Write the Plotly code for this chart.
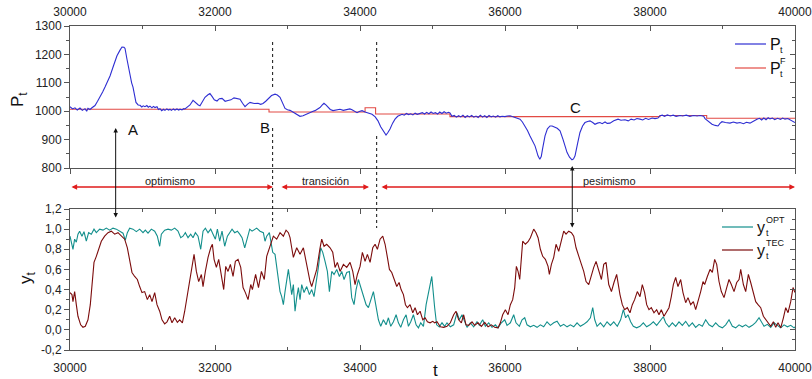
import plotly.graph_objects as go

# ---- market price P_t and fundamental price P_t^F ----
p_t = [30000, 30035, 30069, 30100, 30138, 30170, 30207, 30230, 30248, 30275, 30303, 30345, 30380, 30414, 30450,
       30483, 30520, 30552, 30600, 30648, 30690, 30717, 30745, 30759, 30786, 30810, 30828, 30850, 30869, 30890,
       30910, 30940, 30966, 30990, 31010, 31034, 31060, 31080, 31103, 31130, 31150, 31172, 31200, 31220, 31241,
       31265, 31290, 31310, 31335, 31360, 31379, 31400, 31425, 31448, 31475, 31500, 31517, 31545, 31570, 31586,
       31620, 31655, 31697, 31738, 31770, 31793, 31830, 31862, 31903, 31930, 31959, 31990, 32028, 32060, 32097,
       32140, 32179, 32220, 32262, 32300, 32345, 32380, 32414, 32450, 32483, 32540, 32593, 32630, 32662, 32700,
       32731, 32780, 32828, 32860, 32897, 32930, 32966, 33000, 33034, 33080, 33131, 33172, 33214, 33260, 33310,
       33345, 33379, 33420, 33448, 33480, 33503, 33530, 33559, 33590, 33628, 33680, 33724, 33770, 33821, 33860,
       33890, 33930, 33959, 33990, 34028, 34070, 34110, 34140, 34166, 34210, 34248, 34285, 34317, 34359, 34385,
       34414, 34450, 34483, 34520, 34552, 34580, 34610, 34640, 34670, 34700, 34730, 34760, 34790, 34828, 34860,
       34890, 34920, 34950, 34980, 35010, 35040, 35070, 35100, 35130, 35160, 35190, 35220, 35241, 35269, 35300,
       35330, 35360, 35390, 35420, 35450, 35480, 35510, 35540, 35570, 35600, 35630, 35660, 35690, 35720, 35750,
       35780, 35810, 35840, 35870, 35900, 35930, 35960, 36000, 36030, 36069, 36100, 36138, 36170, 36207, 36240,
       36276, 36310, 36345, 36380, 36414, 36435, 36455, 36480, 36500, 36520, 36552, 36585, 36621, 36650, 36690,
       36720, 36759, 36780, 36800, 36830, 36855, 36890, 36924, 36945, 36966, 37000, 37034, 37070, 37103, 37140,
       37172, 37210, 37241, 37275, 37310, 37340, 37380, 37410, 37448, 37500, 37559, 37600, 37655, 37700, 37740,
       37780, 37820, 37862, 37900, 37940, 37980, 38030, 38069, 38110, 38138, 38170, 38200, 38240, 38280, 38320,
       38360, 38414, 38450, 38500, 38550, 38600, 38650, 38690, 38740, 38759, 38800, 38855, 38900, 38938, 38965,
       38993, 39040, 39103, 39150, 39200, 39241, 39290, 39330, 39379, 39420, 39450, 39476, 39510, 39540, 39570,
       39600, 39630, 39655, 39690, 39720, 39760, 39800, 39830, 39862, 39900, 39940, 39970, 40000]
p_val = [1016, 1008, 1012, 1004, 1011, 1003, 1009, 1000, 1010, 1006, 1012, 1020, 1035, 1054, 1068,
         1085, 1105, 1124, 1160, 1195, 1215, 1226, 1225, 1221, 1183, 1150, 1125, 1100, 1085, 1055,
         1031, 1022, 1021, 1015, 1019, 1016, 1020, 1014, 1018, 1012, 1017, 1013, 1016, 1006, 1009,
         1002, 1007, 1003, 1008, 1004, 1007, 1003, 1008, 1004, 1008, 1004, 1007, 1005, 1009, 1008,
         1014, 1022, 1038, 1028, 1022, 1019, 1035, 1049, 1058, 1062, 1052, 1040, 1036, 1044, 1045,
         1035, 1038, 1040, 1047, 1044, 1042, 1028, 1016, 1025, 1031, 1027, 1028, 1024, 1027, 1035,
         1042, 1055, 1060, 1057, 1049, 1030, 1010, 1005, 1003, 996, 989, 982, 984, 990, 995,
         999, 1002, 1008, 1013, 1022, 1028, 1022, 1013, 1006, 1002, 1005, 1007, 1003, 1005, 1008,
         1005, 999, 995, 999, 1002, 997, 993, 991, 989, 980, 966, 945, 931, 916, 925,
         937, 958, 972, 982, 986, 989, 986, 992, 988, 991, 987, 993, 989, 992, 995,
         990, 996, 991, 997, 992, 995, 990, 997, 992, 998, 993, 996, 994, 982, 985,
         979, 984, 980, 986, 978, 984, 980, 985, 979, 983, 978, 986, 979, 984, 978,
         985, 980, 983, 979, 984, 980, 982, 981, 983, 984, 981, 978, 976, 972, 962,
         948, 932, 913, 897, 878, 860, 843, 831, 840, 870, 913, 938, 948, 948, 945,
         940, 931, 918, 901, 876, 855, 838, 829, 832, 843, 885, 925, 948, 960, 964,
         966, 960, 954, 958, 960, 956, 962, 957, 958, 966, 972, 968, 970, 966, 972,
         969, 974, 972, 969, 975, 971, 976, 974, 976, 984, 986, 982, 987, 983, 986,
         982, 985, 983, 986, 982, 985, 983, 985, 982, 974, 964, 954, 950, 948, 957,
         963, 960, 958, 962, 958, 960, 956, 961, 958, 964, 970, 972, 975, 969, 976,
         970, 977, 973, 976, 970, 975, 971, 976, 972, 974, 968, 964, 960]

pf_t = [30000, 32745, 34070, 34215, 35241, 38138, 38782, 40000]
pf_val = [1007, 997, 1012, 990, 981, 985, 975, 975]

# ---- fraction of technical traders y_t^TEC ----
tec_t = [30000, 30027, 30041, 30064, 30087, 30110, 30147, 30179, 30211, 30248, 30280, 30303, 30331, 30363, 30395,
         30432, 30478, 30524, 30570, 30616, 30662, 30708, 30754, 30791, 30823, 30855, 30892, 30929, 30961, 30993,
         31030, 31067, 31099, 31131, 31168, 31200, 31237, 31269, 31306, 31338, 31375, 31407, 31444, 31481, 31513,
         31550, 31582, 31619, 31651, 31683, 31711, 31743, 31775, 31812, 31835, 31867, 31904, 31941, 31964, 31987,
         32019, 32051, 32088, 32120, 32148, 32180, 32212, 32249, 32281, 32318, 32355, 32387, 32419, 32456, 32493,
         32516, 32560, 32600, 32640, 32680, 32713, 32736, 32768, 32805, 32851, 32897, 32943, 32980, 33012, 33035,
         33058, 33081, 33127, 33173, 33219, 33256, 33288, 33311, 33334, 33366, 33403, 33449, 33472, 33504, 33541,
         33587, 33624, 33656, 33688, 33725, 33771, 33817, 33863, 33900, 33932, 33964, 34001, 34033, 34070, 34102,
         34139, 34176, 34208, 34240, 34277, 34314, 34346, 34378, 34406, 34438, 34470, 34507, 34539, 34567, 34599,
         34627, 34654, 34691, 34728, 34760, 34792, 34829, 34866, 34898, 34930, 34967, 35004, 35030, 35062, 35108,
         35154, 35200, 35246, 35292, 35324, 35361, 35398, 35430, 35462, 35499, 35545, 35582, 35628, 35674, 35720,
         35766, 35812, 35858, 35904, 35936, 35968, 36005, 36042, 36074, 36106, 36134, 36157, 36180, 36203, 36226,
         36244, 36281, 36318, 36350, 36396, 36428, 36456, 36488, 36520, 36557, 36594, 36612, 36640, 36672, 36704,
         36741, 36778, 36810, 36842, 36879, 36916, 36948, 36980, 37017, 37054, 37086, 37118, 37155, 37192, 37224,
         37256, 37293, 37330, 37362, 37394, 37431, 37468, 37503, 37540, 37586, 37618, 37650, 37687, 37724, 37756,
         37788, 37825, 37862, 37894, 37926, 37954, 37986, 38018, 38055, 38092, 38124, 38156, 38193, 38230, 38262,
         38294, 38322, 38354, 38386, 38423, 38455, 38492, 38524, 38561, 38598, 38630, 38662, 38699, 38731, 38754,
         38791, 38828, 38860, 38892, 38920, 38952, 38984, 39021, 39058, 39090, 39122, 39159, 39196, 39228, 39251,
         39288, 39320, 39357, 39389, 39426, 39458, 39490, 39527, 39564, 39596, 39628, 39665, 39702, 39734, 39766,
         39803, 39840, 39872, 39904, 39941, 39973, 40000]
tec_val = [0.37, 0.35, 0.28, 0.38, 0.25, 0.135, 0.05, 0.026, 0.035, 0.10, 0.25, 0.48, 0.67, 0.73, 0.80,
           0.88, 0.93, 0.965, 0.98, 0.95, 0.965, 0.93, 0.90, 0.815, 0.68, 0.57, 0.53, 0.50, 0.43, 0.37,
           0.38, 0.30, 0.35, 0.28, 0.37, 0.25, 0.185, 0.10, 0.06, 0.08, 0.135, 0.07, 0.12, 0.075, 0.10,
           0.07, 0.185, 0.35, 0.50, 0.62, 0.75, 0.58, 0.48, 0.55, 0.43, 0.58, 0.72, 0.815, 0.85, 0.70,
           0.62, 0.70, 0.55, 0.40, 0.63, 0.58, 0.65, 0.53, 0.68, 0.70, 0.62, 0.42, 0.37, 0.30, 0.45,
           0.40, 0.55, 0.42, 0.58, 0.50, 0.73, 0.78, 0.85, 0.93, 0.90, 0.965, 0.93, 0.99, 0.965, 0.915,
           0.815, 0.72, 0.815, 0.75, 0.815, 0.67, 0.58, 0.48, 0.43, 0.50, 0.60, 0.815, 0.90, 0.83, 0.85,
           0.815, 0.77, 0.62, 0.67, 0.58, 0.65, 0.62, 0.67, 0.58, 0.45, 0.55, 0.63, 0.77, 0.68, 0.75,
           0.67, 0.815, 0.85, 0.80, 0.90, 0.93, 0.85, 0.72, 0.60, 0.57, 0.50, 0.43, 0.47, 0.40, 0.35,
           0.25, 0.22, 0.25, 0.17, 0.22, 0.15, 0.185, 0.10, 0.12, 0.08, 0.07, 0.085, 0.07, 0.08, 0.03,
           0.025, 0.035, 0.07, 0.15, 0.185, 0.10, 0.07, 0.15, 0.05, 0.045, 0.08, 0.045, 0.07, 0.035, 0.075,
           0.03, 0.05, 0.025, 0.02, 0.07, 0.15, 0.20, 0.15, 0.25, 0.30, 0.42, 0.63, 0.58, 0.50, 0.72,
           0.88, 0.85, 0.875, 0.915, 1.00, 0.965, 0.915, 0.80, 0.73, 0.70, 0.63, 0.55, 0.65, 0.72, 0.85,
           0.78, 0.88, 0.98, 0.95, 0.98, 0.965, 0.93, 0.815, 0.72, 0.65, 0.58, 0.48, 0.45, 0.55, 0.62,
           0.68, 0.58, 0.50, 0.65, 0.67, 0.45, 0.38, 0.47, 0.55, 0.35, 0.25, 0.20, 0.22, 0.17, 0.25,
           0.30, 0.38, 0.33, 0.45, 0.37, 0.25, 0.20, 0.22, 0.17, 0.20, 0.15, 0.20, 0.135, 0.185, 0.22,
           0.33, 0.45, 0.52, 0.43, 0.50, 0.37, 0.27, 0.32, 0.25, 0.28, 0.20, 0.28, 0.38, 0.48, 0.45,
           0.53, 0.60, 0.57, 0.70, 0.65, 0.48, 0.38, 0.32, 0.42, 0.50, 0.45, 0.38, 0.47, 0.50, 0.60,
           0.45, 0.38, 0.55, 0.47, 0.35, 0.28, 0.25, 0.22, 0.135, 0.10, 0.07, 0.035, 0.08, 0.025, 0.07,
           0.02, 0.12, 0.22, 0.17, 0.28, 0.42, 0.37]

# ---- fraction of optimistic traders y_t^OPT ----
opt_t = [30000, 30018, 30041, 30064, 30087, 30110, 30133, 30165, 30193, 30225, 30257, 30294, 30331, 30363, 30409,
         30455, 30501, 30547, 30593, 30639, 30685, 30731, 30763, 30791, 30823, 30869, 30915, 30961, 31007, 31039,
         31076, 31122, 31168, 31205, 31237, 31260, 31306, 31352, 31398, 31444, 31490, 31527, 31559, 31591, 31628,
         31665, 31697, 31729, 31766, 31803, 31835, 31867, 31904, 31941, 31973, 32005, 32033, 32065, 32097, 32134,
         32171, 32203, 32235, 32272, 32309, 32341, 32373, 32410, 32447, 32479, 32511, 32529, 32575, 32621, 32667,
         32690, 32713, 32750, 32773, 32796, 32828, 32851, 32874, 32897, 32920, 32943, 32966, 32989, 33012, 33035,
         33058, 33081, 33104, 33127, 33150, 33173, 33196, 33228, 33265, 33302, 33334, 33366, 33394, 33426, 33458,
         33486, 33518, 33550, 33578, 33610, 33642, 33679, 33716, 33748, 33780, 33817, 33854, 33886, 33918, 33946,
         33978, 34010, 34047, 34084, 34116, 34148, 34185, 34217, 34254, 34286, 34323, 34360, 34392, 34424, 34461,
         34498, 34530, 34562, 34599, 34636, 34668, 34700, 34737, 34774, 34806, 34838, 34875, 34912, 34944, 34967,
         34990, 35030, 35057, 35094, 35131, 35168, 35200, 35246, 35292, 35338, 35370, 35407, 35444, 35476, 35522,
         35568, 35614, 35646, 35692, 35729, 35775, 35821, 35867, 35904, 35950, 35996, 36028, 36074, 36120, 36152,
         36198, 36235, 36272, 36304, 36350, 36396, 36442, 36488, 36534, 36580, 36626, 36672, 36718, 36764, 36810,
         36856, 36902, 36948, 36994, 37040, 37086, 37132, 37178, 37210, 37238, 37270, 37316, 37362, 37408, 37454,
         37500, 37549, 37595, 37632, 37664, 37696, 37733, 37770, 37816, 37862, 37908, 37954, 38000, 38046, 38092,
         38138, 38184, 38216, 38262, 38308, 38354, 38400, 38446, 38492, 38538, 38584, 38630, 38676, 38722, 38768,
         38814, 38860, 38906, 38952, 38998, 39044, 39090, 39136, 39182, 39228, 39274, 39320, 39366, 39412, 39458,
         39504, 39536, 39573, 39619, 39665, 39711, 39757, 39803, 39849, 39895, 39941, 39987, 40000]
opt_val = [0.93, 0.88, 0.80, 0.90, 0.87, 0.95, 0.98, 0.93, 0.975, 0.88, 0.965, 0.95, 1.0, 0.965, 1.0,
           0.99, 1.01, 0.99, 1.01, 1.0, 0.98, 0.96, 0.89, 0.965, 1.01, 1.0, 0.975, 1.0, 0.965, 0.99,
           0.96, 1.0, 0.98, 0.93, 0.83, 0.95, 0.99, 1.0, 0.99, 1.01, 0.98, 0.915, 0.93, 0.965, 0.915,
           0.95, 0.915, 0.965, 0.93, 0.80, 0.98, 1.01, 0.965, 1.0, 0.95, 0.90, 1.0, 0.88, 0.98, 0.83,
           0.93, 0.965, 1.0, 0.965, 0.98, 0.95, 0.915, 0.815, 0.93, 1.0, 0.98, 0.99, 1.01, 0.98, 0.965,
           0.88, 0.93, 0.965, 0.88, 0.77, 0.75, 0.63, 0.52, 0.38, 0.33, 0.25, 0.38, 0.50, 0.60, 0.48,
           0.35, 0.45, 0.185, 0.32, 0.42, 0.30, 0.45, 0.37, 0.43, 0.35, 0.40, 0.33, 0.45, 0.62, 0.815,
           0.77, 0.68, 0.58, 0.38, 0.58, 0.55, 0.60, 0.53, 0.58, 0.50, 0.57, 0.58, 0.32, 0.25, 0.40,
           0.50, 0.42, 0.32, 0.25, 0.22, 0.30, 0.38, 0.25, 0.10, 0.035, 0.10, 0.05, 0.12, 0.035, 0.08,
           0.15, 0.07, 0.025, 0.10, 0.15, 0.035, 0.08, 0.15, 0.05, 0.02, 0.07, 0.035, 0.25, 0.38, 0.45,
           0.53, 0.22, 0.05, 0.03, 0.07, 0.035, 0.07, 0.03, 0.05, 0.17, 0.10, 0.15, 0.08, 0.025, 0.07,
           0.03, 0.08, 0.045, 0.10, 0.035, 0.07, 0.025, 0.05, 0.02, 0.07, 0.10, 0.045, 0.07, 0.15, 0.07,
           0.035, 0.10, 0.12, 0.05, 0.03, 0.045, 0.025, 0.05, 0.03, 0.08, 0.045, 0.07, 0.085, 0.035, 0.055,
           0.03, 0.05, 0.03, 0.07, 0.035, 0.055, 0.08, 0.12, 0.22, 0.10, 0.035, 0.07, 0.03, 0.08, 0.045,
           0.08, 0.035, 0.10, 0.20, 0.12, 0.15, 0.08, 0.035, 0.02, 0.035, 0.07, 0.03, 0.05, 0.08, 0.045,
           0.085, 0.13, 0.07, 0.03, 0.07, 0.035, 0.08, 0.045, 0.085, 0.035, 0.07, 0.025, 0.055, 0.035, 0.10,
           0.05, 0.03, 0.07, 0.035, 0.02, 0.05, 0.10, 0.035, 0.02, 0.05, 0.03, 0.05, 0.025, 0.045, 0.075,
           0.12, 0.08, 0.035, 0.055, 0.025, 0.07, 0.045, 0.02, 0.05, 0.03, 0.045, 0.02, 0.03]

# ---- axis ticks and event markers ----
x_ticks = [30000, 32000, 34000, 36000, 38000, 40000]
x_ticktext = ["30000", "32000", "34000", "36000", "38000", "40000"]
p_ticks = [800, 900, 1000, 1100, 1200, 1300]
y_ticks = [-0.2, 0.0, 0.2, 0.4, 0.6, 0.8, 1.0, 1.2]
y_ticktext = ["-0,2", "0,0", "0,2", "0,4", "0,6", "0,8", "1,0", "1,2"]
regimes = [("optimismo", 30000, 32800), ("transición", 32897, 34124), ("pesimismo", 34276, 40000)]
breaks = [32795, 34230]
events = [("A", 30630), ("C", 36928)]

# colours
C_BLUE = "#2e2ed2"
C_FUND = "#e24a44"
C_TEAL = "#138f8c"
C_MAROON = "#7c0c0c"
C_BAND = "#e01c1c"
C_AXIS = "#555555"
FONT = "Liberation Sans, Arial, sans-serif"

# figure geometry (paper fractions)
L, R, T, B = 70, 17, 26, 29
W, H = 812, 379
PW, PH = W - L - R, H - T - B


def px(xp):
    return (xp - L) / PW


def py(yp):
    return (H - B - yp) / PH


top_dom = [py(168), 1.0]
bot_dom = [0.0, py(209)]

fig = go.Figure()

fig.add_trace(go.Scatter(x=pf_t, y=pf_val, mode="lines", line=dict(color=C_FUND, width=1.1, shape="hv"),
                         xaxis="x", yaxis="y", showlegend=False, hoverinfo="skip"))
fig.add_trace(go.Scatter(x=p_t, y=p_val, mode="lines", line=dict(color=C_BLUE, width=1.1),
                         xaxis="x", yaxis="y", showlegend=False))
fig.add_trace(go.Scatter(x=opt_t, y=opt_val, mode="lines", line=dict(color=C_TEAL, width=1.1),
                         xaxis="x2", yaxis="y2", showlegend=False))
fig.add_trace(go.Scatter(x=tec_t, y=tec_val, mode="lines", line=dict(color=C_MAROON, width=1.1),
                         xaxis="x2", yaxis="y2", showlegend=False))
# carriers for the overlay axes (frame ticks on the opposite sides)
fig.add_trace(go.Scatter(x=[None], y=[None], xaxis="x3", yaxis="y3", showlegend=False, hoverinfo="skip"))
fig.add_trace(go.Scatter(x=[None], y=[None], xaxis="x2", yaxis="y4", showlegend=False, hoverinfo="skip"))

tickfont = dict(family=FONT, size=12, color="#222222")
xcommon = dict(range=[30000, 40000], tickvals=x_ticks, ticktext=x_ticktext, showline=True, linecolor=C_AXIS,
               linewidth=1, ticklen=5, tickcolor=C_AXIS, showgrid=False, zeroline=False, tickfont=tickfont,
               ticklabeloverflow="allow", automargin=False,
               minor=dict(dtick=1000, tick0=30000, ticks="inside", ticklen=3, tickcolor=C_AXIS))
ycommon = dict(automargin=False, showgrid=False, zeroline=False)

fig.update_layout(
    width=W, height=H, margin=dict(l=L, r=R, t=T, b=B, autoexpand=False),
    paper_bgcolor="white", plot_bgcolor="white",
    font=dict(family=FONT, color="#222222"),
    xaxis=dict(**xcommon, domain=[0, 1], anchor="y", side="top", ticks="inside", mirror=True,
               ticklabelstandoff=4),
    xaxis3=dict(range=[30000, 40000], overlaying="x", anchor="y", side="bottom", tickvals=x_ticks,
                ticks="outside", ticklen=5, tickcolor=C_AXIS, showticklabels=False, showgrid=False,
                zeroline=False, showline=False, automargin=False),
    yaxis=dict(**ycommon, domain=top_dom, anchor="x", range=[800, 1300], tickvals=p_ticks, ticks="outside",
               ticklen=5, tickcolor=C_AXIS, showline=True, linecolor=C_AXIS, mirror=True, tickfont=tickfont,
               minor=dict(dtick=50, tick0=800, ticks="outside", ticklen=3, tickcolor=C_AXIS)),
    yaxis3=dict(**ycommon, overlaying="y", anchor="x3", side="right", range=[800, 1300], tickvals=p_ticks,
                ticks="inside", ticklen=5, tickcolor=C_AXIS, showticklabels=False, showline=False,
                minor=dict(dtick=50, tick0=800, ticks="inside", ticklen=3, tickcolor=C_AXIS)),
    xaxis2=dict(**xcommon, domain=[0, 1], anchor="y2", side="bottom", ticks="inside", mirror="ticks",
                ticklabelstandoff=7),
    yaxis2=dict(**ycommon, domain=bot_dom, anchor="x2", range=[-0.2, 1.2], tickvals=y_ticks,
                ticktext=y_ticktext, ticks="outside", ticklen=5, tickcolor=C_AXIS, showline=True,
                linecolor=C_AXIS, mirror=True, tickfont=tickfont,
                minor=dict(dtick=0.1, tick0=-0.2, ticks="outside", ticklen=3, tickcolor=C_AXIS)),
    yaxis4=dict(**ycommon, overlaying="y2", anchor="x2", side="right", range=[-0.2, 1.2], tickvals=y_ticks,
                ticks="inside", ticklen=5, tickcolor=C_AXIS, showticklabels=False, showline=False,
                minor=dict(dtick=0.1, tick0=-0.2, ticks="inside", ticklen=3, tickcolor=C_AXIS)),
)

shapes = []
ann = []

# regime boundaries (dotted)
for tb, gap_end in zip(breaks, [128, 136]):
    for y0, y1 in [(42, 89), (gap_end, 228)]:
        shapes.append(dict(type="line", xref="x", yref="paper", x0=tb, x1=tb, y0=py(y0), y1=py(y1),
                           line=dict(color="#111111", width=1, dash="dot")))

# regime bands with double arrows and labels
band_y = py(187)
for label, t0, t1 in regimes:
    ann.append(dict(xref="x", yref="paper", x=t1, y=band_y, axref="x", ayref="pixel", ax=t0, ay=0,
                    text="", showarrow=True, arrowside="end+start", arrowhead=2, arrowsize=0.7,
                    arrowwidth=1.6, arrowcolor=C_BAND, standoff=0, startstandoff=0))
label_x = {"optimismo": 170, "transición": 325, "pesimismo": 609}
for label, _, _ in regimes:
    ann.append(dict(xref="paper", yref="paper", x=px(label_x[label]), y=py(181), text=label, showarrow=False,
                    font=dict(size=11, family=FONT, color="#222222"), xanchor="center", yanchor="middle"))

# event arrows linking price extremes with trader fractions
ev_y = {"A": (128, 219), "C": (166, 229)}
for name, te in events:
    ytop, ybot = ev_y[name]
    ann.append(dict(xref="x", yref="paper", x=te, y=py(ytop), ax=0, ay=ybot - ytop, text="",
                    showarrow=True, arrowside="end+start", arrowhead=2, arrowsize=0.9, arrowwidth=1,
                    arrowcolor="#111111", standoff=0, startstandoff=0))
for name, xp_, yp_ in [("A", 133, 129), ("B", 265, 128), ("C", 575, 107)]:
    ann.append(dict(xref="paper", yref="paper", x=px(xp_), y=py(yp_), text=name, showarrow=False,
                    font=dict(size=15, family=FONT, color="#111111"), xanchor="center", yanchor="middle"))

# axis titles
ann.append(dict(xref="paper", yref="paper", x=px(19), y=py(100), text="P<sub>t</sub>", textangle=-90,
                showarrow=False, font=dict(size=17, family=FONT, color="#111111"),
                xanchor="center", yanchor="middle"))
ann.append(dict(xref="paper", yref="paper", x=px(27), y=py(278), text="y<sub>t</sub>", textangle=-90,
                showarrow=False, font=dict(size=17, family=FONT, color="#111111"),
                xanchor="center", yanchor="middle"))
ann.append(dict(xref="paper", yref="paper", x=px(435), y=py(370), text="t", showarrow=False,
                font=dict(size=17, family=FONT, color="#111111"), xanchor="center", yanchor="middle"))


# legends
def legend_entry(color, yline, base, sup, sub, x_base, x_idx):
    shapes.append(dict(type="line", xref="paper", yref="paper", x0=px(x_base - 33), x1=px(x_base - 2),
                       y0=py(yline), y1=py(yline), line=dict(color=color, width=1.2)))
    ann.append(dict(xref="paper", yref="paper", x=px(x_base), y=py(yline), text=base, showarrow=False,
                    font=dict(size=16, family=FONT, color="#111111"), xanchor="left", yanchor="middle"))
    if sup:
        ann.append(dict(xref="paper", yref="paper", x=px(x_base + x_idx), y=py(yline - 7), text=sup,
                        showarrow=False, font=dict(size=9, family=FONT, color="#111111"),
                        xanchor="left", yanchor="middle"))
    ann.append(dict(xref="paper", yref="paper", x=px(x_base + x_idx), y=py(yline + 6), text=sub,
                    showarrow=False, font=dict(size=9, family=FONT, color="#111111"),
                    xanchor="left", yanchor="middle"))


legend_entry(C_BLUE, 44, "P", None, "t", 768, 10)
legend_entry(C_FUND, 68, "P", "F", "t", 768, 10)
legend_entry(C_TEAL, 227, "y", "OPT", "t", 755, 9)
legend_entry(C_MAROON, 250, "y", "TEC", "t", 755, 9)

fig.update_layout(shapes=shapes, annotations=ann)
fig.write_html("out.html")
